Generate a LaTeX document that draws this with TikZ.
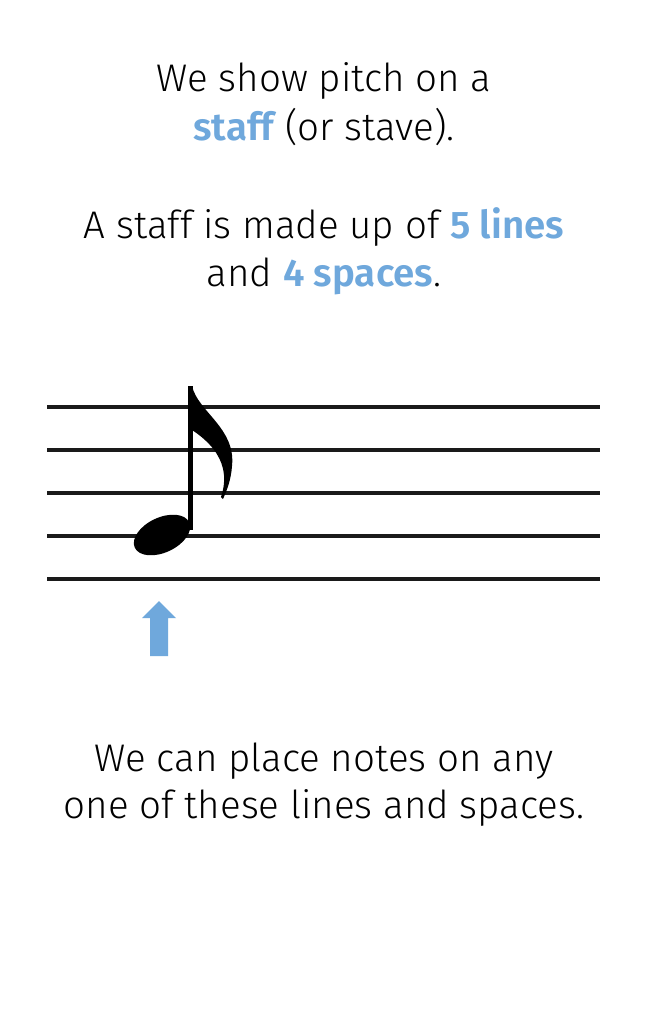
\documentclass[tikz,border=0pt]{standalone}
\usepackage{fontspec}
\setmainfont{Fira Sans}[UprightFont={* Light},BoldFont={* SemiBold}]
\definecolor{accent}{HTML}{6FA8DC}
\definecolor{ink}{HTML}{1A1A1A}
\begin{document}
\begin{tikzpicture}[x=1pt,y=-1pt,
  txt/.style={anchor=base,inner sep=0pt,font=\fontsize{38.5}{46}\selectfont,text=black},
  staffline/.style={line width=3.5pt,draw=ink}]
\useasboundingbox[fill=white] (0,0) rectangle (648,1014);
\newcommand{\hlt}[1]{{\bfseries\color{accent}#1}}
\node[txt] (t1) at (324,92) {We show pitch on a};
\node[txt] (t2) at (324,140) {\hlt{staff} (or stave).};
\node[txt] (t3) at (324,238) {A staff is made up of \hlt{5 lines}};
\node[txt] (t4) at (324,286) {and \hlt{4 spaces}.};
\foreach \y/\n in {407/l1,450/l2,493/l3,536/l4,579/l5}{
  \coordinate (\n a) at (47,\y);
  \coordinate (\n b) at (600,\y);
  \draw[staffline] (\n a) -- (\n b);
}
% note head
\fill[black,rotate around={25:(162,535)}] (162,535) ellipse (30 and 17.5);
% stem
\fill[black] (188,386) rectangle (192.5,530);
% flag
\fill[black] (188,386) -- (192,386) .. controls (198,412) and (236,428) .. (232,466)
  .. controls (231,480) and (227,490) .. (223,499) -- (221,497)
  .. controls (226,482) and (230,455) .. (192,430) -- cycle;
% arrow
\fill[accent] (150,656) -- (150,618) -- (142,618) -- (159,601) -- (176,618) -- (168,618) -- (168,656) -- cycle;
\node[txt] (b1) at (324,771) {We can place notes on any};
\node[txt] (b2) at (324,818) {one of these lines and spaces.};
\end{tikzpicture}
\end{document}
